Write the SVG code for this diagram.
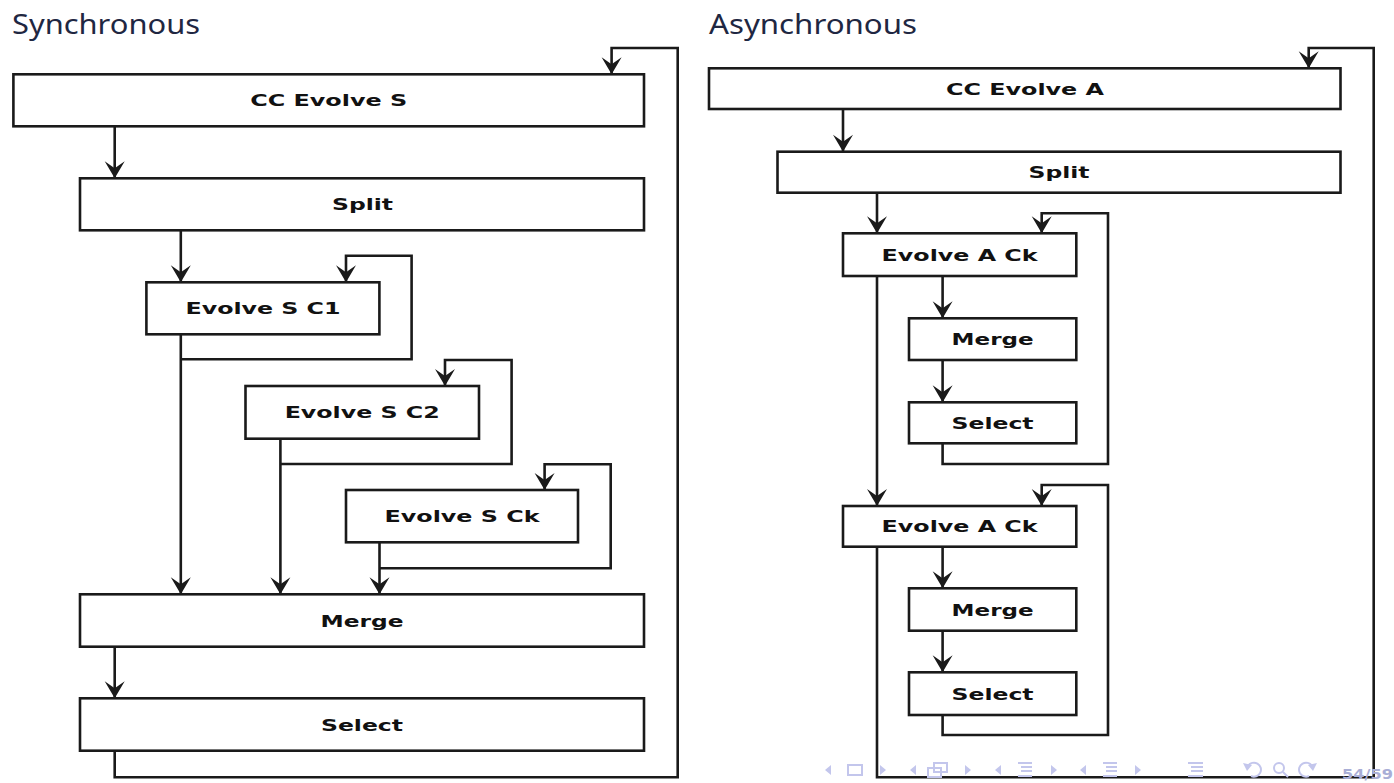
<svg xmlns="http://www.w3.org/2000/svg" width="1394" height="783" viewBox="0 0 1394 783">
<style>
.box{fill:#ffffff;stroke:#1a1a1a;stroke-width:2.6}
.lbl{font-family:"DejaVu Sans",sans-serif;font-weight:bold;font-size:16px;fill:#111;text-anchor:middle}
.ttl{font-family:"Noto Sans","Open Sans",sans-serif;font-size:27px;fill:#1f2742}
.con{fill:none;stroke:#1a1a1a;stroke-width:2.6;stroke-linejoin:miter}
.arr{marker-end:url(#ah)}
.nav{fill:#c3c6ec;stroke:none}
.navs{fill:none;stroke:#c3c6ec;stroke-width:2}
</style>
<defs>
<marker id="ah" markerUnits="userSpaceOnUse" markerWidth="30" markerHeight="30" refX="0" refY="0" orient="auto" overflow="visible">
<path d="M0,0 L-17,-10 L-10,0 L-17,10 Z" fill="#1a1a1a"/>
</marker>
</defs>
<rect width="1394" height="783" fill="#ffffff"/>
<text class="ttl" x="12" y="34" textLength="188" lengthAdjust="spacingAndGlyphs">Synchronous</text>
<text class="ttl" x="709" y="34" textLength="208" lengthAdjust="spacingAndGlyphs">Asynchronous</text>

<g id="connectors">
<path class="con arr" d="M114.7,126.3 V178.3"/>
<path class="con arr" d="M180.8,230.3 V282.3"/>
<path class="con arr" d="M180.8,334.3 V594.3"/>
<path class="con arr" d="M180.8,359.3 H411.6 V255.7 H346 V282.3"/>
<path class="con arr" d="M280.4,438.7 V594.3"/>
<path class="con arr" d="M280.4,464 H511.6 V360 H445 V386"/>
<path class="con arr" d="M379.5,542.3 V594.3"/>
<path class="con arr" d="M379.5,568.3 H610.7 V464.3 H544.6 V490"/>
<path class="con arr" d="M114.7,646.7 V698.3"/>
<path class="con arr" d="M114.7,750.7 V777.3 H677.7 V48 H611.6 V74.3"/>

<path class="con arr" d="M843,109 V151.7"/>
<path class="con arr" d="M877,192.7 V233.3"/>
<path class="con arr" d="M942.6,276 V318.3"/>
<path class="con arr" d="M942.6,360 V402.3"/>
<path class="con arr" d="M942.6,443.3 V464 H1108 V213.3 H1041.7 V233.3"/>
<path class="con arr" d="M877,276 V506"/>
<path class="con arr" d="M942.6,546.7 V588.3"/>
<path class="con arr" d="M942.6,630.7 V672.3"/>
<path class="con arr" d="M942.6,715 V735 H1108 V485 H1041.7 V506"/>
<path class="con arr" d="M877,546.7 V777.3 H1373.7 V48 H1308.7 V68.3"/>
</g>

<g id="n-cc-evolve-s"><rect class="box" x="13.4" y="74.3" width="630.6" height="52"/><text class="lbl" x="328.7" y="106" textLength="157" lengthAdjust="spacingAndGlyphs">CC Evolve S</text></g>
<g id="n-split-s"><rect class="box" x="80" y="178.3" width="564" height="52"/><text class="lbl" x="362.5" y="210.3" textLength="61" lengthAdjust="spacingAndGlyphs">Split</text></g>
<g id="n-evolve-s-c1"><rect class="box" x="146.4" y="282.3" width="233" height="52"/><text class="lbl" x="263" y="314.3" textLength="155" lengthAdjust="spacingAndGlyphs">Evolve S C1</text></g>
<g id="n-evolve-s-c2"><rect class="box" x="245.5" y="386" width="233.5" height="52.7"/><text class="lbl" x="362.2" y="418.3" textLength="155" lengthAdjust="spacingAndGlyphs">Evolve S C2</text></g>
<g id="n-evolve-s-ck"><rect class="box" x="346" y="490" width="232" height="52.3"/><text class="lbl" x="462" y="522.2" textLength="155" lengthAdjust="spacingAndGlyphs">Evolve S Ck</text></g>
<g id="n-merge-s"><rect class="box" x="80" y="594.3" width="564" height="52.4"/><text class="lbl" x="362" y="626.5" textLength="83" lengthAdjust="spacingAndGlyphs">Merge</text></g>
<g id="n-select-s"><rect class="box" x="80" y="698.3" width="564" height="52.4"/><text class="lbl" x="362" y="730.5" textLength="82" lengthAdjust="spacingAndGlyphs">Select</text></g>

<g id="n-cc-evolve-a"><rect class="box" x="709" y="68.3" width="631.5" height="40.7"/><text class="lbl" x="1025" y="94.5" textLength="158" lengthAdjust="spacingAndGlyphs">CC Evolve A</text></g>
<g id="n-split-a"><rect class="box" x="777.5" y="151.7" width="563" height="41"/><text class="lbl" x="1059" y="178" textLength="61" lengthAdjust="spacingAndGlyphs">Split</text></g>
<g id="n-evolve-a-ck-1"><rect class="box" x="843" y="233.3" width="233.3" height="42.7"/><text class="lbl" x="959.6" y="260.5" textLength="156" lengthAdjust="spacingAndGlyphs">Evolve A Ck</text></g>
<g id="n-merge-a-1"><rect class="box" x="909" y="318.3" width="167.3" height="41.7"/><text class="lbl" x="992.6" y="345" textLength="82" lengthAdjust="spacingAndGlyphs">Merge</text></g>
<g id="n-select-a-1"><rect class="box" x="909" y="402.3" width="167.3" height="41"/><text class="lbl" x="992.6" y="428.8" textLength="82" lengthAdjust="spacingAndGlyphs">Select</text></g>
<g id="n-evolve-a-ck-2"><rect class="box" x="843" y="506" width="233.3" height="40.7"/><text class="lbl" x="959.6" y="532.3" textLength="156" lengthAdjust="spacingAndGlyphs">Evolve A Ck</text></g>
<g id="n-merge-a-2"><rect class="box" x="909" y="588.3" width="167.3" height="42.4"/><text class="lbl" x="992.6" y="615.5" textLength="82" lengthAdjust="spacingAndGlyphs">Merge</text></g>
<g id="n-select-a-2"><rect class="box" x="909" y="672.3" width="167.3" height="42.7"/><text class="lbl" x="992.6" y="699.6" textLength="82" lengthAdjust="spacingAndGlyphs">Select</text></g>

<g id="nav">
<polygon class="nav" points="831,765 825,770 831,775"/>
<rect class="navs" x="848" y="765" width="14" height="10"/>
<polygon class="nav" points="880,765 886,770 880,775"/>
<polygon class="nav" points="916,765 910,770 916,775"/>
<rect class="navs" x="928" y="768" width="13" height="9"/>
<rect class="navs" x="934" y="763" width="13" height="9"/>
<polygon class="nav" points="965,765 971,770 965,775"/>
<polygon class="nav" points="1001,765 995,770 1001,775"/>
<path class="navs" d="M1018,763 H1032 M1021,767 H1032 M1021,771 H1032 M1018,776 H1032"/>
<polygon class="nav" points="1051,765 1057,770 1051,775"/>
<polygon class="nav" points="1086,765 1080,770 1086,775"/>
<path class="navs" d="M1103,763 H1117 M1106,767 H1117 M1106,771 H1117 M1103,776 H1117"/>
<polygon class="nav" points="1135,765 1141,770 1135,775"/>
<path class="navs" d="M1188,763 H1203 M1191,767 H1203 M1191,771 H1203 M1188,776 H1203"/>
<path class="navs" d="M1248,766 A7,7 0 1 1 1251,776"/>
<polygon class="nav" points="1243,763 1247,771 1252,765"/>
<circle class="navs" cx="1279" cy="768" r="5"/>
<path class="navs" d="M1283,772 L1288,777"/>
<path class="navs" d="M1312,766 A7,7 0 1 0 1309,776"/>
<polygon class="nav" points="1317,763 1313,771 1308,765"/>
<text x="1342" y="779" font-family="DejaVu Sans, sans-serif" font-weight="bold" font-size="14" fill="#a9aed6" textLength="51" lengthAdjust="spacingAndGlyphs">54/59</text>
</g>
</svg>
